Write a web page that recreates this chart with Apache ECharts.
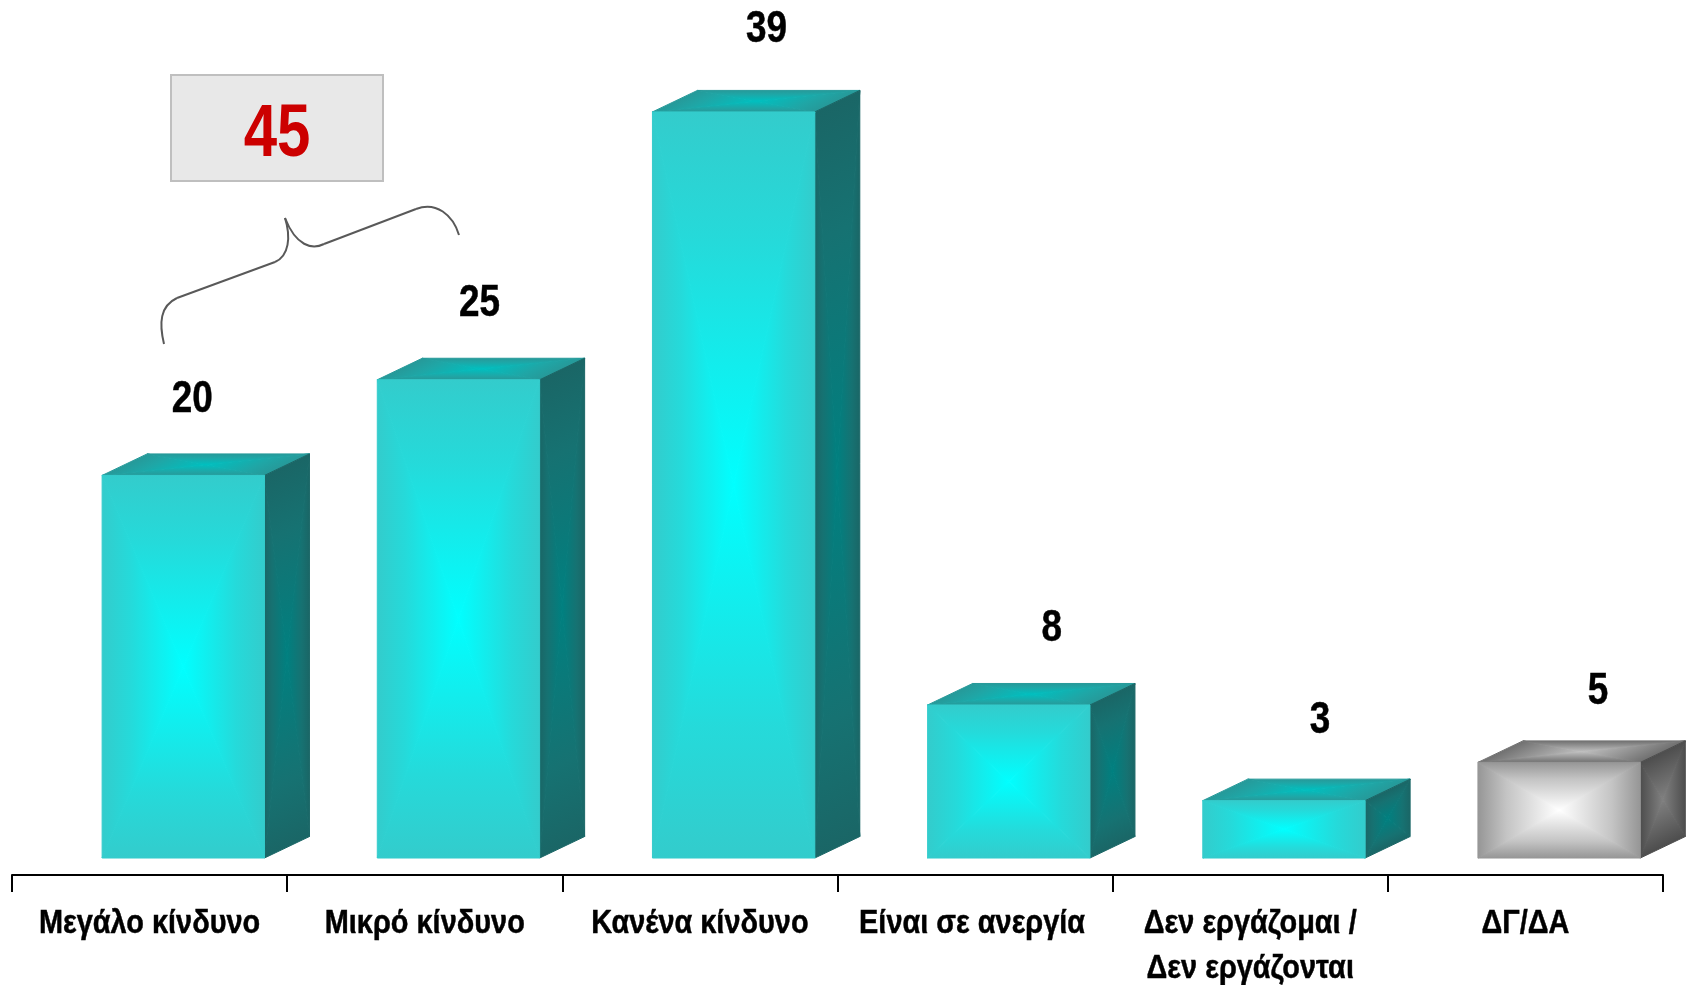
<!DOCTYPE html>
<html><head><meta charset="utf-8">
<style>html,body{margin:0;padding:0;background:#fff}#c{width:1688px;height:985px}</style>
<script src="https://cdn.jsdelivr.net/npm/echarts@6/dist/echarts.min.js"></script>
</head><body><div id="c"></div>
<script>
const categories = ['Μεγάλο κίνδυνο','Μικρό κίνδυνο','Κανένα κίνδυνο','Είναι σε ανεργία','Δεν εργάζομαι /\nΔεν εργάζονται','ΔΓ/ΔΑ'];
const values = [20,25,39,8,3,5];
const isNeutral = [false,false,false,false,false,true];
const combinedValue = 45;

// layout of labels (hand-placed in the original), px from the front-face centre / top
const labelDX = [9,21,33,43,36,39];
const labelDY = [-78,-78,-84,-78,-82,-73];
const categoryDX = [0,0,0,-3,0,0];

const FONT = '"Liberation Sans",Arial,sans-serif';
const DEPTH_X = 45, DEPTH_Y = 21.5, BAR_RATIO = 0.59, BAR_SHIFT = 0.1225;

const PAL = {
  teal: {front:['#33CCCC','#25DADA','#00FFFF'], side:['#1A6666','#167272','#008080'], top:['#269999','#1FA6A6','#00BFBF']},
  grey: {front:['#969696','#C4C4C4','#FFFFFF'], side:['#4D4D4D','#5F5F5F','#808080'], top:['#707070','#8C8C8C','#BFBFBF']}
};

function face(pts, cols, z2){
  const n = pts.length, c = [pts.reduce((s,p)=>s+p[0],0)/n, pts.reduce((s,p)=>s+p[1],0)/n];
  const out = [];
  for(let i=0;i<n;i++){
    const a=pts[i], b=pts[(i+1)%n];
    const ex=b[0]-a[0], ey=b[1]-a[1];
    const t=((c[0]-a[0])*ex+(c[1]-a[1])*ey)/(ex*ex+ey*ey);
    const fx=a[0]+t*ex, fy=a[1]+t*ey;
    const grad=new echarts.graphic.LinearGradient(fx,fy,c[0],c[1],[
        {offset:0,color:cols[0]},{offset:0.35,color:cols[1]},{offset:1,color:cols[2]}],true);
    out.push({type:'polygon',z2:z2+1,shape:{points:[a,b,c]},style:{fill:grad,stroke:grad,lineWidth:1}});
  }
  return out;
}

function squeezed(text,x,y,font,z2,lineHeight,narrow){
  return {type:'text',z2,x,y,scaleX:narrow,style:{text,x:0,y:0,align:'center',verticalAlign:'top',fill:'#000',stroke:'#000',lineWidth:0.5,font,lineHeight}};
}

const chart = echarts.init(document.getElementById('c'),null,{renderer:'canvas'});
chart.setOption({
  animation:false,
  backgroundColor:'#fff',
  grid:{left:12,right:25,top:0,height:875,containLabel:false},
  xAxis:{type:'category',data:categories,boundaryGap:true,
    axisLine:{show:true,onZero:false,lineStyle:{color:'#000',width:2}},
    axisTick:{show:true,alignWithLabel:false,length:17,lineStyle:{color:'#000',width:2}},
    axisLabel:{show:false}},
  yAxis:{type:'value',min:-0.887,max:44.85,show:false,splitLine:{show:false}},
  series:[{
    type:'custom',
    coordinateSystem:'cartesian2d',
    clip:false,
    encode:{x:0,y:1},
    data:values.map((v,i)=>[i,v]),
    renderItem(params,api){
      const i=api.value(0), v=api.value(1);
      const band=api.size([1,0])[0];
      const top=api.coord([i,v]), base=api.coord([i,0]);
      const w=band*BAR_RATIO, cx=top[0]+band*BAR_SHIFT;
      const x1=cx-w/2, x2=cx+w/2, y1=top[1], y2=base[1];
      const pal=isNeutral[i]?PAL.grey:PAL.teal;
      const children=[
        ...face([[x1,y1],[x1+DEPTH_X,y1-DEPTH_Y],[x2+DEPTH_X,y1-DEPTH_Y],[x2,y1]],pal.top,10),
        ...face([[x2,y1],[x2+DEPTH_X,y1-DEPTH_Y],[x2+DEPTH_X,y2-DEPTH_Y],[x2,y2]],pal.side,10),
        ...face([[x1,y1],[x2,y1],[x2,y2],[x1,y2]],pal.front,20),
        squeezed(String(v),cx+labelDX[i],y1+labelDY[i]-20.5,'bold 45px '+FONT,30,45,0.82),
        squeezed(categories[i],top[0]+categoryDX[i],901,'bold 34px '+FONT,30,45,0.85)
      ];
      return {type:'group',children};
    }
  }],
  graphic:[
    {type:'rect',z:50,shape:{x:171,y:75,width:212,height:106},style:{fill:'#E8E8E8',stroke:'#BFBFBF',lineWidth:2}},
    {type:'text',z:51,x:277,y:135,scaleX:0.8,style:{text:String(combinedValue),x:0,y:0,align:'center',verticalAlign:'middle',fill:'#CC0000',font:'bold 75px '+FONT}},
    {type:'bezierCurve',z:50,shape:{x1:164,y1:344,cpx1:159,cpy1:323,cpx2:160,cpy2:306,x2:177,y2:298},style:{fill:'none',stroke:'#595959',lineWidth:2}},
    {type:'line',z:50,shape:{x1:177,y1:298,x2:275,y2:262},style:{stroke:'#595959',lineWidth:2}},
    {type:'bezierCurve',z:50,shape:{x1:275,y1:262,cpx1:289,cpy1:256,cpx2:291,cpy2:237,x2:285,y2:218},style:{fill:'none',stroke:'#595959',lineWidth:2}},
    {type:'bezierCurve',z:50,shape:{x1:285,y1:218,cpx1:296,cpy1:246,cpx2:312,cpy2:250,x2:324,y2:244},style:{fill:'none',stroke:'#595959',lineWidth:2}},
    {type:'line',z:50,shape:{x1:324,y1:244,x2:416,y2:209},style:{stroke:'#595959',lineWidth:2}},
    {type:'bezierCurve',z:50,shape:{x1:416,y1:209,cpx1:436,cpy1:201,cpx2:453,cpy2:215,x2:459,y2:235},style:{fill:'none',stroke:'#595959',lineWidth:2}}
  ]
});
</script></body></html>
